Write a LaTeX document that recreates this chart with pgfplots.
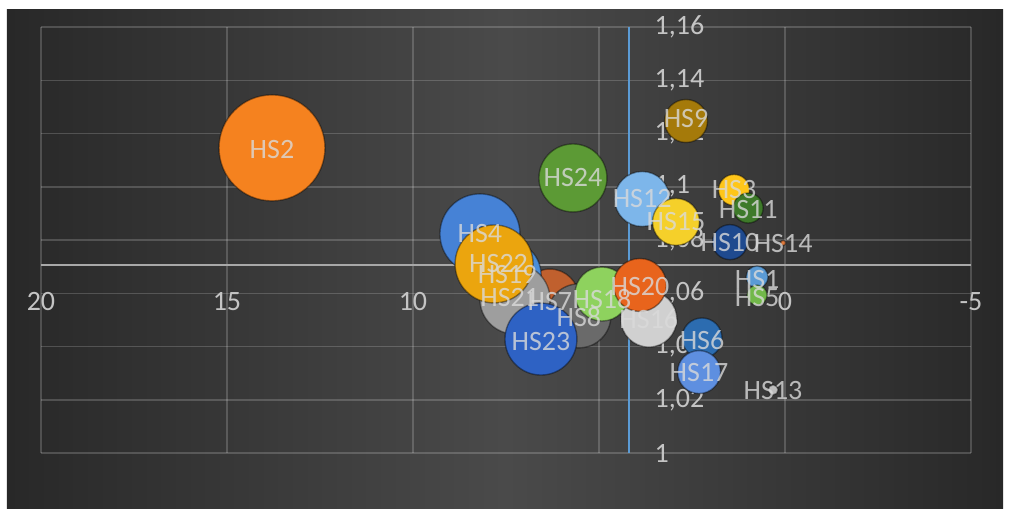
\documentclass[border=0pt]{standalone}
\usepackage{fontspec}
\setmainfont{Carlito}
\usepackage{pgfplots}
\pgfplotsset{compat=1.18}
\definecolor{bgin}{HTML}{4A4A4A}
\definecolor{bgout}{HTML}{282828}
\definecolor{tickgray}{HTML}{C4C4C4}
\definecolor{labgray}{HTML}{DADADA}
\definecolor{axgray}{HTML}{A8A8A8}
\definecolor{axblue}{HTML}{5B9BD5}
\definecolor{c1}{HTML}{5B9BD5}
\definecolor{c2}{HTML}{F5821F}
\definecolor{c3}{HTML}{FFC61A}
\definecolor{c4}{HTML}{4682D6}
\definecolor{c5}{HTML}{72B84A}
\definecolor{c6}{HTML}{2C6CB0}
\definecolor{c7}{HTML}{C0602E}
\definecolor{c8}{HTML}{6A6A6A}
\definecolor{c9}{HTML}{A57A0A}
\definecolor{c10}{HTML}{1F4A8F}
\definecolor{c11}{HTML}{3E7A2A}
\definecolor{c12}{HTML}{7DB6EA}
\definecolor{c13}{HTML}{BDBDBD}
\definecolor{c14}{HTML}{E07A3C}
\definecolor{c15}{HTML}{F5D02A}
\definecolor{c16}{HTML}{D0D0D0}
\definecolor{c17}{HTML}{5E8FE0}
\definecolor{c18}{HTML}{8ED25E}
\definecolor{c19}{HTML}{4A8ED8}
\definecolor{c20}{HTML}{E8641C}
\definecolor{c21}{HTML}{9E9E9E}
\definecolor{c22}{HTML}{EBA50E}
\definecolor{c23}{HTML}{2E62C4}
\definecolor{c24}{HTML}{5C9A35}
\pgfplotsset{bub/.style={only marks, mark=*, mark options={fill=#1, draw=black, draw opacity=0.4, line width=0.7pt}}}
\begin{document}
\begin{tikzpicture}
\fill[white] (-20.5pt,-28pt) rectangle (485pt,226.5pt);
\shade[left color=bgout, right color=bgout, middle color=bgin, shading angle=90] (-17pt,-27.5pt) rectangle (481pt,221.5pt);
\begin{axis}[at={(0,0)}, anchor=south west, scale only axis,
  width=465pt, height=213pt,
  x dir=reverse, xmin=-5, xmax=20, ymin=1, ymax=1.16,
  xtick={-5,0,5,10,15,20},
  ytick={1,1.02,1.04,1.06,1.08,1.1,1.12,1.14,1.16},
  grid=major, major grid style={white, opacity=0.18, line width=0.75pt},
  axis line style={draw=none}, tick style={draw=none},
  clip=false,
  /pgf/number format/.cd, use comma, fixed, precision=2, assume math mode=true, /pgfplots/.cd,
  ticklabel style={font=\fontsize{14}{16}\selectfont, text=tickgray},
  xticklabel style={anchor=center, yshift=75.5pt},
  yticklabel style={anchor=west, xshift=303.3pt},
]
\draw[color=axgray, line width=1.4pt] (axis cs:20,1.0706) -- (axis cs:-5,1.0706);
\draw[color=axblue, line width=1.2pt] (axis cs:4.19,1) -- (axis cs:4.19,1.16);
\addplot[bub=c1, mark size=5.5pt] coordinates {(0.75,1.0661)};
\addplot[bub=c2, mark size=26.5pt] coordinates {(13.79,1.1146)};
\addplot[bub=c3, mark size=7.75pt] coordinates {(1.37,1.0988)};
\addplot[bub=c4, mark size=20pt] coordinates {(8.20,1.0823)};
\addplot[bub=c5, mark size=5pt] coordinates {(0.75,1.0593)};
\addplot[bub=c6, mark size=10pt] coordinates {(2.23,1.0432)};
\addplot[bub=c7, mark size=14.5pt] coordinates {(6.32,1.0582)};
\addplot[bub=c8, mark size=16pt] coordinates {(5.54,1.0515)};
\addplot[bub=c9, mark size=10.75pt] coordinates {(2.66,1.1247)};
\addplot[bub=c10, mark size=8.75pt] coordinates {(1.48,1.0792)};
\addplot[bub=c11, mark size=7.5pt] coordinates {(0.99,1.0920)};
\addplot[bub=c12, mark size=13.75pt] coordinates {(3.84,1.0954)};
\addplot[bub=c13, mark size=2.5pt] coordinates {(0.32,1.0237)};
\addplot[bub=c14, mark size=1.25pt] coordinates {(0.05,1.0789)};
\addplot[bub=c15, mark size=11.75pt] coordinates {(2.93,1.0868)};
\addplot[bub=c16, mark size=14pt] coordinates {(3.66,1.0503)};
\addplot[bub=c17, mark size=10.75pt] coordinates {(2.31,1.0304)};
\addplot[bub=c18, mark size=13.5pt] coordinates {(4.92,1.0597)};
\addplot[bub=c19, mark size=17pt] coordinates {(7.47,1.0669)};
\addplot[bub=c20, mark size=13.25pt] coordinates {(3.90,1.0631)};
\addplot[bub=c21, mark size=17.5pt] coordinates {(7.26,1.0578)};
\addplot[bub=c22, mark size=19.5pt] coordinates {(7.82,1.0710)};
\addplot[bub=c23, mark size=18pt] coordinates {(6.56,1.0428)};
\addplot[bub=c24, mark size=17pt] coordinates {(5.70,1.1033)};
\addplot[draw=none, mark=none, nodes near coords, point meta=explicit symbolic,
  every node near coord/.append style={anchor=center, font=\fontsize{14}{16}\selectfont, text=labgray, text opacity=0.8}]
  table[meta=lab] {
x y lab
0.75 1.0650 HS1
13.79 1.1140 HS2
1.37 1.0988 HS3
8.20 1.0823 HS4
0.75 1.0585 HS5
2.23 1.0425 HS6
6.32 1.0570 HS7
5.54 1.0510 HS8
2.66 1.1255 HS9
1.48 1.0790 HS10
0.99 1.0915 HS11
3.84 1.0954 HS12
0.32 1.0235 HS13
0.05 1.0785 HS14
2.93 1.0868 HS15
3.66 1.0503 HS16
2.31 1.0304 HS17
4.92 1.0580 HS18
7.47 1.0669 HS19
3.90 1.0625 HS20
7.40 1.0583 HS21
7.70 1.0710 HS22
6.56 1.0420 HS23
5.70 1.1033 HS24
};
\end{axis}
\pgfresetboundingbox
\useasboundingbox (-20.5pt,-28pt) rectangle (485pt,226.5pt);
\end{tikzpicture}
\end{document}
